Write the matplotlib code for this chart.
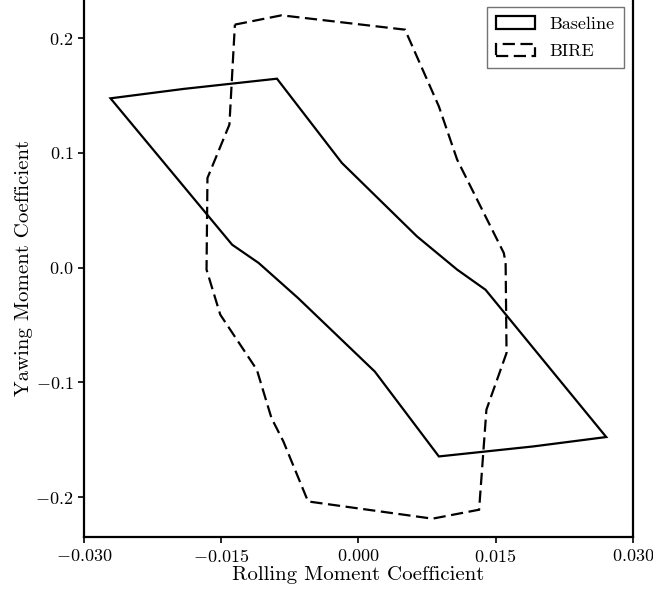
import matplotlib
matplotlib.use("Agg")
import matplotlib.pyplot as plt
from matplotlib.patches import Polygon

plt.rcParams["font.family"] = "serif"
plt.rcParams["font.serif"] = ["cmr10", "DejaVu Serif"]
plt.rcParams["mathtext.fontset"] = "cm"
plt.rcParams["axes.formatter.use_mathtext"] = True

# baseline envelope (rolling vs yawing moment coefficient)
BASE_X = [-0.0271, -0.0191, -0.0089, -0.0018, 0.0064, 0.0108, 0.0139,
          0.0271, 0.0191, 0.0088, 0.0018, -0.0066, -0.0109, -0.0138]
BASE_Y = [0.1475, 0.1557, 0.1646, 0.0912, 0.0273, -0.0017, -0.0192,
          -0.1475, -0.1557, -0.1644, -0.0905, -0.0264, 0.0041, 0.0200]

# BIRE envelope
BIRE_X = [-0.0135, -0.0084, 0.0051, 0.0088, 0.0108, 0.0159, 0.0161,
          0.0162, 0.0140, 0.0132, 0.0081, -0.0055, -0.0082, -0.0095,
          -0.0111, -0.0151, -0.0166, -0.0165, -0.0141]
BIRE_Y = [0.2117, 0.2198, 0.2073, 0.1405, 0.0941, 0.0128, 0.0041,
          -0.0743, -0.1237, -0.2108, -0.2186, -0.2036, -0.1513, -0.1310,
          -0.0889, -0.0409, -0.0017, 0.0781, 0.1246]

XTICKS = [-0.030, -0.015, 0.0, 0.015, 0.030]
YTICKS = [-0.2, -0.1, 0.0, 0.1, 0.2]

fig = plt.figure(figsize=(6.53, 5.94), dpi=100)
ax = fig.add_axes([0.1286, 0.0955, 0.8404, 0.9226])

ax.add_patch(Polygon(list(zip(BASE_X, BASE_Y)), closed=True, fill=False,
                     ec="black", lw=1.6, ls="-", label="Baseline"))
ax.add_patch(Polygon(list(zip(BIRE_X, BIRE_Y)), closed=True, fill=False,
                     ec="black", lw=1.6, ls=(0, (5.5, 2.5)), label="BIRE"))

ax.set_xlim(-0.030, 0.030)
ax.set_ylim(-0.2348, 0.2425)
ax.set_xticks(XTICKS)
ax.set_xticklabels([f"${v:.3f}$" for v in XTICKS])
ax.set_yticks(YTICKS)
ax.set_yticklabels([f"${v:.1f}$" for v in YTICKS])
ax.tick_params(labelsize=13, width=1.2, length=4)
for s in ax.spines.values():
    s.set_linewidth(1.6)

ax.set_xlabel("Rolling Moment Coefficient", fontsize=15, labelpad=1)
ax.set_ylabel("Yawing Moment Coefficient", fontsize=15)
ax.yaxis.set_label_coords(-0.093, 0.491)

leg = ax.legend(loc="upper right", bbox_to_anchor=(0.9556, 0.9877),
                bbox_transform=fig.transFigure, borderaxespad=0,
                fontsize=13, fancybox=False, framealpha=1, edgecolor="0.45",
                handlelength=2.2, labelspacing=0.65, borderpad=0.5)
leg.get_frame().set_linewidth(1.0)

fig.savefig("out.png", dpi=100)
